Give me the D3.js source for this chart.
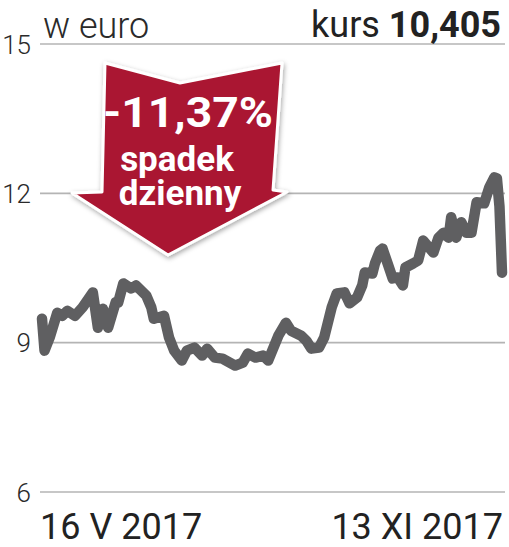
<!DOCTYPE html>
<html>
<head>
<meta charset="utf-8">
<script src="https://cdnjs.cloudflare.com/ajax/libs/d3/7.8.5/d3.min.js"></script>
<style>
  body { margin: 0; background: #fff; }
  svg text { font-family: Roboto, "Noto Sans", sans-serif; }
</style>
</head>
<body>
<script>
// kurs w euro, 16 V 2017 - 13 XI 2017 (dni od startu)
var days = [0, 1, 3, 6, 8, 10, 13, 16, 20, 22, 24, 26, 29, 30, 32, 35, 37, 39, 41, 43,
            44, 48, 50, 52, 55, 57, 60, 63, 65, 68, 71, 76, 79, 81, 84, 87, 89, 93, 96, 98,
            102, 104, 106, 109, 111, 114, 116, 119, 121, 124, 126, 127, 130, 131, 133, 134, 136, 138, 140, 142,
            143, 146, 148, 150, 154, 156, 158, 160, 161, 163, 165, 167, 169, 171, 174, 176, 178, 179, 180, 181];
var values = [9.48, 8.84, 9.10, 9.60, 9.54, 9.64, 9.54, 9.71, 10.01, 9.30, 9.68, 9.30, 9.81, 9.81, 10.19, 10.09, 10.15, 10.05, 9.95, 9.71,
              9.48, 9.54, 9.10, 8.84, 8.64, 8.84, 8.90, 8.74, 8.88, 8.70, 8.68, 8.54, 8.60, 8.78, 8.70, 8.74, 8.64, 9.14, 9.40, 9.24,
              9.14, 9.04, 8.88, 8.90, 9.10, 9.71, 9.99, 10.01, 9.79, 9.91, 10.15, 10.41, 10.39, 10.59, 10.85, 10.89, 10.59, 10.29, 10.31, 10.15,
              10.51, 10.59, 10.65, 11.05, 10.81, 11.11, 11.21, 11.11, 11.52, 11.11, 11.42, 11.21, 11.21, 11.82, 11.80, 12.12, 12.32, 12.30, 11.74, 10.405];
var yTicks = [6, 9, 12, 15];
var xLabels = ["16 V 2017", "13 XI 2017"];
var unitLabel = "w euro";
var lastLabel = "kurs ";
var lastValue = "10,405";
var badgeLines = ["-11,37%", "spadek", "dzienny"];

var width = 509, height = 547;

var x = d3.scaleLinear().domain([0, 181]).range([42, 502]);
var y = d3.scaleLinear().domain([6, 15]).range([492, 44]);

var svg = d3.select("body").append("svg")
    .attr("width", width)
    .attr("height", height);

// gridlines
svg.selectAll("line.grid")
    .data(yTicks)
    .enter()
    .append("line")
    .attr("class", "grid")
    .attr("x1", 40)
    .attr("x2", 505)
    .attr("y1", function(d) { return y(d); })
    .attr("y2", function(d) { return y(d); })
    .style("stroke", "#b4b4b4")
    .style("stroke-width", 1.6);

// tick labels
svg.selectAll("text.tick")
    .data(yTicks)
    .enter()
    .append("text")
    .attr("class", "tick")
    .attr("x", 31)
    .attr("y", function(d) { return y(d) + 9.5; })
    .attr("text-anchor", "end")
    .style("font-size", "26px")
    .style("font-weight", 300)
    .style("fill", "#2a2a2a")
    .text(function(d) { return d; });

// header
svg.append("text")
    .attr("x", 43)
    .attr("y", 38)
    .style("font-size", "36px")
    .style("font-weight", 300)
    .style("fill", "#2a2a2a")
    .text(unitLabel);

var kurs = svg.append("text")
    .attr("x", 501)
    .attr("y", 37)
    .attr("text-anchor", "end")
    .style("font-size", "36px")
    .style("fill", "#222");
kurs.append("tspan").text(lastLabel);
kurs.append("tspan").style("font-weight", 700).text(lastValue);

// price line
var line = d3.line()
    .x(function(d, i) { return x(days[i]); })
    .y(function(d) { return y(d); });

svg.append("path")
    .datum(values)
    .attr("d", line)
    .style("fill", "none")
    .style("stroke", "#5f5f61")
    .style("stroke-width", 10.5)
    .style("stroke-linejoin", "round")
    .style("stroke-linecap", "round");

// x labels
svg.append("text")
    .attr("x", 40)
    .attr("y", 539)
    .style("font-size", "36px")
    .style("fill", "#222")
    .text(xLabels[0]);

svg.append("text")
    .attr("x", 503)
    .attr("y", 539)
    .attr("text-anchor", "end")
    .style("font-size", "36px")
    .style("fill", "#222")
    .text(xLabels[1]);

// red arrow badge
var defs = svg.append("defs");
var f = defs.append("filter").attr("id", "shadow")
    .attr("x", "-20%").attr("y", "-20%").attr("width", "140%").attr("height", "140%");
f.append("feDropShadow")
    .attr("dx", 1).attr("dy", 2).attr("stdDeviation", 2.5)
    .attr("flood-color", "#000").attr("flood-opacity", 0.35);

var arrow = [[105, 63], [180, 83], [282, 63], [273, 190], [287, 192], [168, 255], [72, 193], [102, 192]];
svg.append("path")
    .attr("d", "M" + arrow.join("L") + "Z")
    .attr("filter", "url(#shadow)")
    .style("fill", "#aa1630")
    .style("stroke", "#fff")
    .style("stroke-width", 3)
    .style("stroke-linejoin", "round");

svg.append("text")
    .attr("x", 188)
    .attr("y", 127)
    .attr("text-anchor", "middle")
    .attr("textLength", 170)
    .attr("lengthAdjust", "spacingAndGlyphs")
    .style("font-size", "42px")
    .style("font-weight", 700)
    .style("fill", "#fff")
    .text(badgeLines[0]);

svg.append("text")
    .attr("x", 177)
    .attr("y", 171)
    .attr("text-anchor", "middle")
    .style("font-size", "35px")
    .style("font-weight", 700)
    .style("fill", "#fff")
    .text(badgeLines[1]);

svg.append("text")
    .attr("x", 180)
    .attr("y", 205)
    .attr("text-anchor", "middle")
    .style("font-size", "35px")
    .style("font-weight", 700)
    .style("fill", "#fff")
    .text(badgeLines[2]);
</script>
</body>
</html>
